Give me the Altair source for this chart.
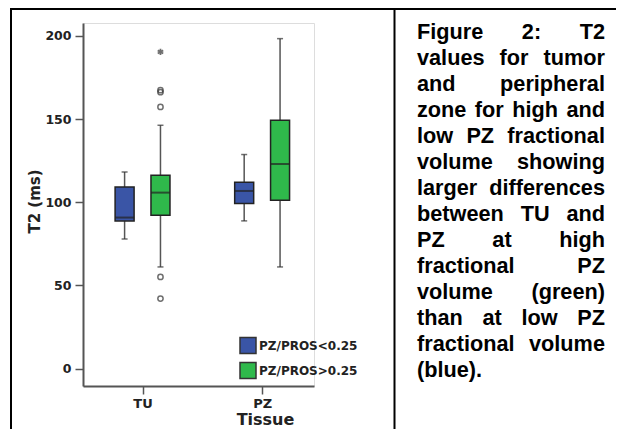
import altair as alt
import pandas as pd

# ---------------- data ----------------
tissues = ["TU", "PZ"]
groups = ["PZ/PROS<0.25", "PZ/PROS>0.25"]
colors = ["#3a55a6", "#2fb94b"]

box_tissue = ["TU", "TU", "PZ", "PZ"]
box_group = ["PZ/PROS<0.25", "PZ/PROS>0.25", "PZ/PROS<0.25", "PZ/PROS>0.25"]
whisker_lo = [77.9, 61.1, 88.8, 61.1]
q1 = [88.8, 92.2, 99.2, 101.2]
median = [90.8, 105.8, 106.8, 123.0]
q3 = [109.2, 116.2, 112.0, 149.3]
whisker_hi = [118.2, 146.3, 128.7, 198.4]

out_tissue = ["TU", "TU", "TU", "TU", "TU"]
out_group = ["PZ/PROS>0.25"] * 5
out_value = [42.1, 55.1, 157.3, 166.2, 167.4]

ext_tissue = ["TU"]
ext_group = ["PZ/PROS>0.25"]
ext_value = [190.4]

caption_lines = [
    "Figure 2: T2",
    "values for tumor",
    "and peripheral",
    "zone for high and",
    "low PZ fractional",
    "volume showing",
    "larger differences",
    "between TU and",
    "PZ at high",
    "fractional PZ",
    "volume (green)",
    "than at low PZ",
    "fractional volume",
    "(blue).",
]

# ---------------- layout helpers ----------------
offsets = [-0.15, 0.15]


def xpos(t, g):
    return tissues.index(t) + 1 + offsets[groups.index(g)]


box_df = pd.DataFrame({
    "tissue": box_tissue, "group": box_group,
    "lo": whisker_lo, "q1": q1, "med": median, "q3": q3, "hi": whisker_hi,
})
box_df["xp"] = [xpos(t, g) for t, g in zip(box_tissue, box_group)]

out_df = pd.DataFrame({"tissue": out_tissue, "group": out_group, "v": out_value})
out_df["xp"] = [xpos(t, g) for t, g in zip(out_tissue, out_group)]

ext_df = pd.DataFrame({"tissue": ext_tissue, "group": ext_group, "v": ext_value})
ext_df["xp"] = [xpos(t, g) for t, g in zip(ext_tissue, ext_group)]

# Helvetica/Arial bold advance widths (per 1000 em) for justified caption layout
W = {'F': 611, 'i': 278, 'g': 611, 'u': 611, 'r': 389, 'e': 556, '2': 556, ':': 333,
     'T': 611, 'v': 556, 'a': 556, 'l': 278, 's': 556, 'f': 333, 'o': 611, 't': 333,
     'm': 889, 'n': 611, 'd': 611, 'p': 611, 'h': 611, 'z': 500, 'w': 778, 'P': 667,
     'Z': 611, 'c': 556, 'y': 556, 'b': 611, 'U': 722, '(': 333, ')': 333, '.': 278,
     ' ': 278, 'k': 556, 'x': 556, 'j': 278, 'q': 611}
cap_size = 21.7
cap_left, cap_right = 334.0, 522.0
cap_top_base, cap_lead = 16.0, 26.0


def wwidth(word):
    return sum(W.get(ch, 556) for ch in word) * cap_size / 1000.0


rows = []
for li, line in enumerate(caption_lines):
    words = line.split(" ")
    base = cap_top_base + li * cap_lead
    if li == len(caption_lines) - 1 or len(words) == 1:
        x = cap_left
        for w in words:
            rows.append({"word": w, "px": x, "py": base})
            x += wwidth(w) + W[' '] * cap_size / 1000.0
    else:
        widths = [wwidth(w) for w in words]
        gap = (cap_right - cap_left - sum(widths)) / (len(words) - 1)
        x = cap_left
        for w, wd in zip(words, widths):
            rows.append({"word": w, "px": x, "py": base})
            x += wd + gap
cap_df = pd.DataFrame(rows)

# ---------------- chart ----------------
FONT = "DejaVu Sans"
x_scale = alt.Scale(domain=[0.544, 2.392], nice=False, zero=False)
y_scale = alt.Scale(domain=[-10.5, 207.8], nice=False, zero=False)

label_expr = "[" + ",".join("'%s'" % t for t in tissues) + "][datum.value - 1]"
x_axis = alt.Axis(values=[1, 2], labelExpr=label_expr, title="Tissue", grid=False,
                  domainColor="#555555", domainWidth=2, tickColor="#555555",
                  tickWidth=1.5, tickSize=8, labelFont=FONT, labelFontWeight="bold",
                  labelFontSize=13, labelColor="#222222", labelPadding=3,
                  titleFont=FONT, titleFontWeight="bold", titleFontSize=16,
                  titleColor="#222222", titleX=182, titleY=38,
                  titleBaseline="alphabetic", titleAlign="center")
y_axis = alt.Axis(values=[0, 50, 100, 150, 200], title="T2 (ms)", grid=False,
                  domainColor="#555555", domainWidth=2, tickColor="#555555",
                  tickWidth=1.5, tickSize=8, labelFont=FONT, labelFontWeight="bold",
                  labelFontSize=12.5, labelColor="#222222", labelPadding=4,
                  titleFont=FONT, titleFontWeight="bold", titleFontSize=15,
                  titleColor="#222222", titleAngle=270, titleX=-49, titleY=178,
                  titleBaseline="middle", titleAlign="center")

X = alt.X("xp:Q", scale=x_scale, axis=x_axis)


def Y(field):
    return alt.Y(field, type="quantitative", scale=y_scale, axis=y_axis)


box_base = alt.Chart(box_df)

whisk_low = box_base.mark_rule(color="#555555", strokeWidth=1.5).encode(
    x=X, y=Y("lo"), y2="q1")
whisk_high = box_base.mark_rule(color="#555555", strokeWidth=1.5).encode(
    x=X, y=Y("q3"), y2="hi")
cap_low = box_base.mark_tick(orient="horizontal", size=6, thickness=1.5,
                             color="#333333").encode(x=X, y=Y("lo"))
cap_high = box_base.mark_tick(orient="horizontal", size=6, thickness=1.5,
                              color="#333333").encode(x=X, y=Y("hi"))
boxes = box_base.mark_bar(size=19, stroke="#222222", strokeWidth=1.5).encode(
    x=X, y=Y("q1"), y2="q3",
    fill=alt.Fill("group:N",
                  scale=alt.Scale(domain=groups, range=colors),
                  legend=alt.Legend(title=None, orient="none", legendX=156,
                                    legendY=313.5, symbolType="square",
                                    symbolSize=256, symbolStrokeColor="#333333",
                                    symbolStrokeWidth=1.5, symbolOpacity=1,
                                    labelFont=FONT, labelFontWeight="bold",
                                    labelFontSize=12, labelColor="#222222",
                                    labelOffset=2, rowPadding=3, padding=0)),
)
medians = box_base.mark_tick(orient="horizontal", size=19, thickness=2,
                             color="#222222").encode(x=X, y=Y("med"))

outliers = alt.Chart(out_df).mark_point(shape="circle", filled=False, size=28,
                                        color="#333333", strokeWidth=1.5).encode(
    x=X, y=Y("v"))
asterisk = "M0,-1L0,1M-0.87,-0.5L0.87,0.5M-0.87,0.5L0.87,-0.5"
extremes = alt.Chart(ext_df).mark_point(shape=asterisk, filled=False, size=40,
                                        color="#333333", strokeWidth=1.8).encode(
    x=X, y=Y("v"))

caption = alt.Chart(cap_df).mark_text(
    font="Liberation Sans", fontWeight="bold", fontSize=cap_size, color="#000000",
    align="left", baseline="alphabetic").encode(
    x=alt.X("px:Q", scale=None, axis=None),
    y=alt.Y("py:Q", scale=None, axis=None),
    text="word:N")

one = pd.DataFrame({"k": [0]})
left_border = alt.Chart(one).mark_rule(color="#000000", strokeWidth=2).encode(
    x=alt.value(-72), y=alt.value(-16), y2=alt.value(420))
top_border = alt.Chart(one).mark_rule(color="#000000", strokeWidth=2).encode(
    x=alt.value(-73), x2=alt.value(545), y=alt.value(-14))
divider = alt.Chart(one).mark_rule(color="#000000", strokeWidth=2).encode(
    x=alt.value(311.5), y=alt.value(-14), y2=alt.value(420))

chart = alt.layer(
    whisk_low, whisk_high, cap_low, cap_high, boxes, medians, outliers, extremes,
    caption, left_border, top_border, divider,
).properties(
    width=231, height=363,
    autosize=alt.AutoSizeParams(type="none"),
    padding={"left": 75, "top": 15, "right": 302, "bottom": 43},
).configure_view(strokeWidth=0).configure(background="#ffffff")

chart.save("out.html", embed_options={"renderer": "svg", "actions": False})
